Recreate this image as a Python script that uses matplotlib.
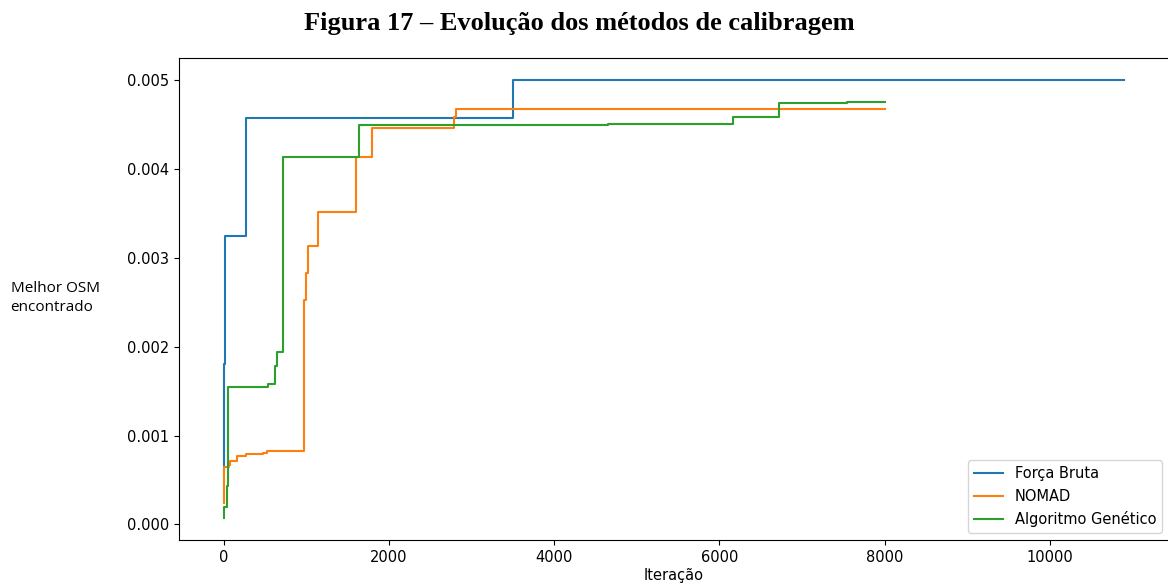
import matplotlib.pyplot as plt

# Força Bruta
fb_iter = [0, 5, 12, 274, 3500, 10900]
fb_osm = [0.00060, 0.00180, 0.00325, 0.00457, 0.00500, 0.00500]

# NOMAD
nomad_iter = [0, 5, 60, 80, 160, 273, 474, 523, 977, 997, 1017, 1146, 1600, 1789, 2786, 2806, 8000]
nomad_osm = [0.00024, 0.00064, 0.00067, 0.00071, 0.00077, 0.00079, 0.00080, 0.00083,
             0.00253, 0.00283, 0.00313, 0.00352, 0.00413, 0.00446, 0.00458, 0.00467, 0.00467]

# Algoritmo Genético
ga_iter = [0, 5, 40, 52, 530, 623, 643, 723, 1640, 4650, 6170, 6720, 7540, 8010]
ga_osm = [0.00007, 0.00020, 0.00043, 0.00155, 0.00158, 0.00178, 0.00194, 0.00413,
          0.00449, 0.00451, 0.00459, 0.00474, 0.00475, 0.00475]

fig = plt.figure(figsize=(11.68, 5.84), dpi=100)
ax = fig.add_axes([0.153, 0.0753, 0.848, 0.825])

ax.plot(fb_iter, fb_osm, drawstyle='steps-post', label='Força Bruta')
ax.plot(nomad_iter, nomad_osm, drawstyle='steps-post', label='NOMAD')
ax.plot(ga_iter, ga_osm, drawstyle='steps-post', label='Algoritmo Genético')

ax.set_yticks([0.000, 0.001, 0.002, 0.003, 0.004, 0.005])
ax.set_yticklabels(['0.000', '0.001', '0.002', '0.003', '0.004', '0.005'])
ax.tick_params(labelsize=10.5)
ax.legend(loc='lower right', fontsize=10.5)

ax.set_xlabel('Iteração', fontsize=10.5, labelpad=2)
fig.text(0.009, 0.49, 'Melhor OSM\nencontrado', fontsize=11, ha='left', va='center',
         family='Open Sans', linespacing=1.4)

fig.text(0.496, 0.959, 'Figura 17 – Evolução dos métodos de calibragem', ha='center',
         va='center', fontsize=19, fontweight='bold', family='Liberation Serif')

fig.savefig('out.png', dpi=100)
